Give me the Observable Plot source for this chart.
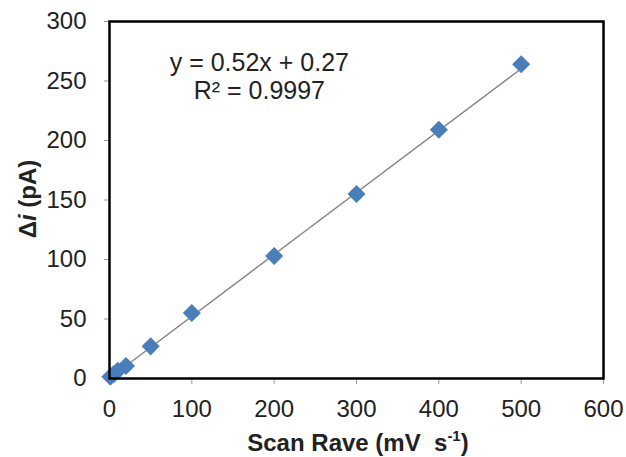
<!DOCTYPE html>
<html><head><meta charset="utf-8">
<script src="https://cdn.jsdelivr.net/npm/d3@7"></script>
<script src="https://cdn.jsdelivr.net/npm/@observablehq/plot@0.6"></script>
<style>
body{margin:0;background:#fff;}
svg{font-family:"Liberation Sans",Arial,sans-serif;}
</style></head>
<body><div id="chart"></div>
<script>
const scanRate = [1, 5, 10, 20, 50, 100, 200, 300, 400, 500];
const deltaI   = [1.5, 3.5, 6.5, 10.5, 27, 55, 103, 155, 209, 264];
const slope = 0.52, intercept = 0.27;
const equationLines = ["y = 0.52x + 0.27", "R² = 0.9997"];
const xTicks = [0, 100, 200, 300, 400, 500, 600];
const yTicks = [0, 50, 100, 150, 200, 250, 300];

const points = scanRate.map((x, i) => ({x, y: deltaI[i]}));
const trend = [0, 500].map(x => ({x, y: slope * x + intercept}));

const chart = Plot.plot({
  width: 626, height: 457,
  marginLeft: 109, marginRight: 23, marginTop: 21, marginBottom: 79,
  style: {fontFamily: '"Liberation Sans", Arial, sans-serif', fontSize: "24px", color: "#222"},
  x: {domain: [0, 600], label: null},
  y: {domain: [0, 300], label: null},
  marks: [
    Plot.axisX({ticks: xTicks, tickSize: 6, tickPadding: 15, stroke: "#999", fill: "#222", fontSize: 24, label: null}),
    Plot.axisY({ticks: yTicks, tickSize: 5, tickPadding: 18, stroke: "#999", fill: "#222", fontSize: 24, label: null}),
    Plot.line(trend, {x: "x", y: "y", stroke: "#808080", strokeWidth: 1.3}),
    Plot.dot(points, {x: "x", y: "y", symbol: "square", rotate: 45, r: 7.2, fill: "#4a7ebb", stroke: "none"}),
    Plot.text([equationLines.join("\n")], {x: 182, y: 275.5, text: d => d, lineHeight: 1.12, fontSize: 25, fill: "#222", lineAnchor: "top"}),
    Plot.frame({stroke: "#000", strokeWidth: 2.5})
  ]
});
document.getElementById("chart").appendChild(chart);

const svg = d3.select(chart);
const yl = svg.append("text")
  .attr("transform", "translate(36,199) rotate(-90)")
  .attr("text-anchor", "middle")
  .attr("font-weight", "bold").attr("font-size", 24).attr("fill", "#222");
yl.append("tspan").text("Δ");
yl.append("tspan").attr("font-style", "italic").text("i");
yl.append("tspan").text(" (pA)");

const xl = svg.append("text")
  .attr("x", 358).attr("y", 451)
  .attr("text-anchor", "middle")
  .attr("font-weight", "bold").attr("font-size", 24).attr("fill", "#222");
xl.append("tspan").text("Scan Rave (mV  s");
xl.append("tspan").attr("font-size", 15).attr("dy", -10).text("-1");
xl.append("tspan").attr("dy", 10).text(")");
</script></body></html>
